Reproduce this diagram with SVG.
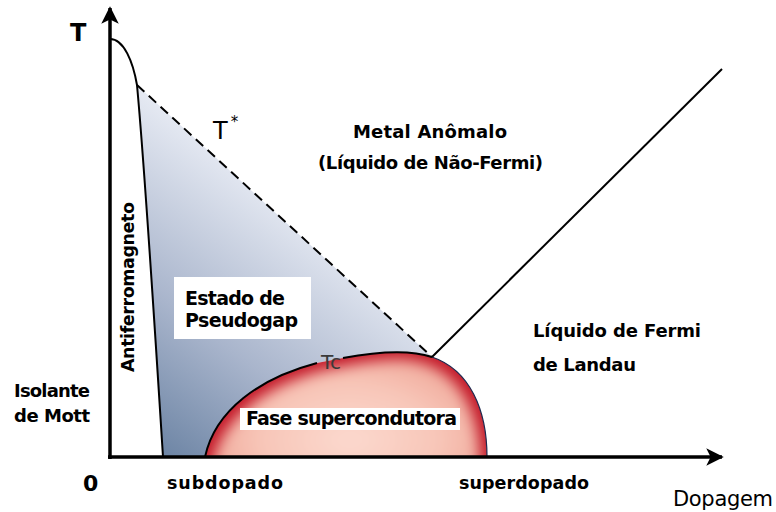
<svg xmlns="http://www.w3.org/2000/svg" width="776" height="512" viewBox="0 0 776 512">
<style>
.b{font-family:"DejaVu Sans","Liberation Sans",sans-serif;font-weight:bold;fill:#000}
.r{font-family:"DejaVu Sans","Liberation Sans",sans-serif;fill:#000}
.ax{stroke:#000;stroke-width:3.5;fill:none}
.ln{stroke:#000;stroke-width:2;fill:none}
</style>
<defs>
<linearGradient id="pg" gradientUnits="userSpaceOnUse" x1="160" y1="457" x2="330" y2="230">
<stop offset="0" stop-color="#6c84a4"/>
<stop offset="0.45" stop-color="#a9b5cc"/>
<stop offset="1" stop-color="#e6eaf3"/>
</linearGradient>
<radialGradient id="pink" gradientUnits="userSpaceOnUse" cx="0" cy="0" r="1" gradientTransform="translate(350 440) scale(140 90)">
<stop offset="0" stop-color="#fcdcd2"/>
<stop offset="0.7" stop-color="#f8c6b8"/>
<stop offset="1" stop-color="#f2b0a2"/>
</radialGradient>
<clipPath id="domeClip">
<path d="M205,457 C215,410 260,378 317,363 L343,358 C375,352 410,349.5 432,357 C470,370 487,410 487,457 Z"/>
</clipPath>
<filter id="inner" x="-10%" y="-10%" width="120%" height="130%">
<feMorphology operator="erode" radius="7"/>
<feGaussianBlur stdDeviation="7"/>
</filter>
<marker id="ah" viewBox="0 0 10 10" refX="9" refY="5" markerWidth="6" markerHeight="5" markerUnits="strokeWidth" orient="auto">
<path d="M0,0 L10,5 L0,10 L2.5,5 Z" fill="#000"/>
</marker>
</defs>
<rect width="776" height="512" fill="#fff"/>

<g id="pseudogap-region">
<path d="M137,85 C143,150 155,330 163,457 L205,457 C215,410 260,378 317,363 L343,358 C375,352 410,349.5 432,357 Z" fill="url(#pg)"/>
</g>

<g id="superconducting-dome">
<path d="M205,457 C215,410 260,378 317,363 L343,358 C375,352 410,349.5 432,357 C470,370 487,410 487,457 Z" fill="#c41a2a"/>
<g clip-path="url(#domeClip)">
<path d="M205,457 C215,410 260,378 317,363 L343,358 C375,352 410,349.5 432,357 C470,370 487,410 487,457 L487,520 L205,520 Z" fill="url(#pink)" filter="url(#inner)"/>
</g>
<path d="M432,357 C470,370 487,410 487,457" fill="none" stroke="#1c2a50" stroke-width="1.2"/>
<path d="M205,457 C215,410 260,378 317,363" class="ln" stroke-width="1.6"/>
<path d="M343,358 C375,352 410,349.5 432,357" class="ln" stroke-width="1.8"/>
<text x="321" y="369" class="r" font-size="20" style="fill:#3a3a3a" textLength="20" lengthAdjust="spacingAndGlyphs">Tc</text>
</g>

<g id="connectors">
<path d="M110,39 C124,39 133,62 137,85 C143,150 155,330 163,457" class="ln" stroke-width="2.5"/>
<line x1="137" y1="85" x2="432" y2="357" class="ln" stroke-dasharray="10,6"/>
<line x1="432" y1="357" x2="722" y2="69" class="ln"/>
<line x1="110" y1="459" x2="110" y2="8" class="ax" marker-end="url(#ah)"/>
<line x1="108" y1="457" x2="722" y2="457" class="ax" marker-end="url(#ah)"/>
</g>

<g id="axis-labels">
<text x="70" y="41" class="b" font-size="24">T</text>
<text x="83" y="491" class="b" font-size="22">0</text>
<text x="673" y="506" class="r" font-size="21" textLength="100">Dopagem</text>
<text x="167" y="489" class="b" font-size="17.5" textLength="116">subdopado</text>
<text x="459" y="489" class="b" font-size="17.5" textLength="130">superdopado</text>
</g>

<g id="mott-insulator">
<text x="14" y="397" class="b" font-size="18" textLength="76">Isolante</text>
<text x="14" y="422" class="b" font-size="18" textLength="76">de Mott</text>
</g>

<g id="antiferromagnet">
<text transform="translate(134 372) rotate(-90)" x="0" y="0" class="b" font-size="17.5" textLength="170">Antiferromagneto</text>
</g>

<g id="pseudogap-label">
<rect x="174" y="277" width="137" height="62" fill="#fff"/>
<text x="185" y="305" class="b" font-size="19" textLength="100">Estado de</text>
<text x="185" y="327" class="b" font-size="19" textLength="113">Pseudogap</text>
</g>

<g id="tstar-label">
<text x="213" y="139" class="r" font-size="24" style="font-weight:500">T<tspan font-size="15" dx="3" dy="-12">*</tspan></text>
</g>

<g id="strange-metal">
<text x="353" y="138" class="b" font-size="18" textLength="154">Metal Anômalo</text>
<text x="318" y="169" class="b" font-size="18" textLength="225">(Líquido de Não-Fermi)</text>
</g>

<g id="fermi-liquid">
<text x="533" y="337" class="b" font-size="18" textLength="168">Líquido de Fermi</text>
<text x="533" y="371" class="b" font-size="18" textLength="103">de Landau</text>
</g>

<g id="sc-label">
<rect x="240" y="408" width="220" height="22" fill="#fff"/>
<text x="246" y="425" class="b" font-size="19" textLength="211">Fase supercondutora</text>
</g>
</svg>
